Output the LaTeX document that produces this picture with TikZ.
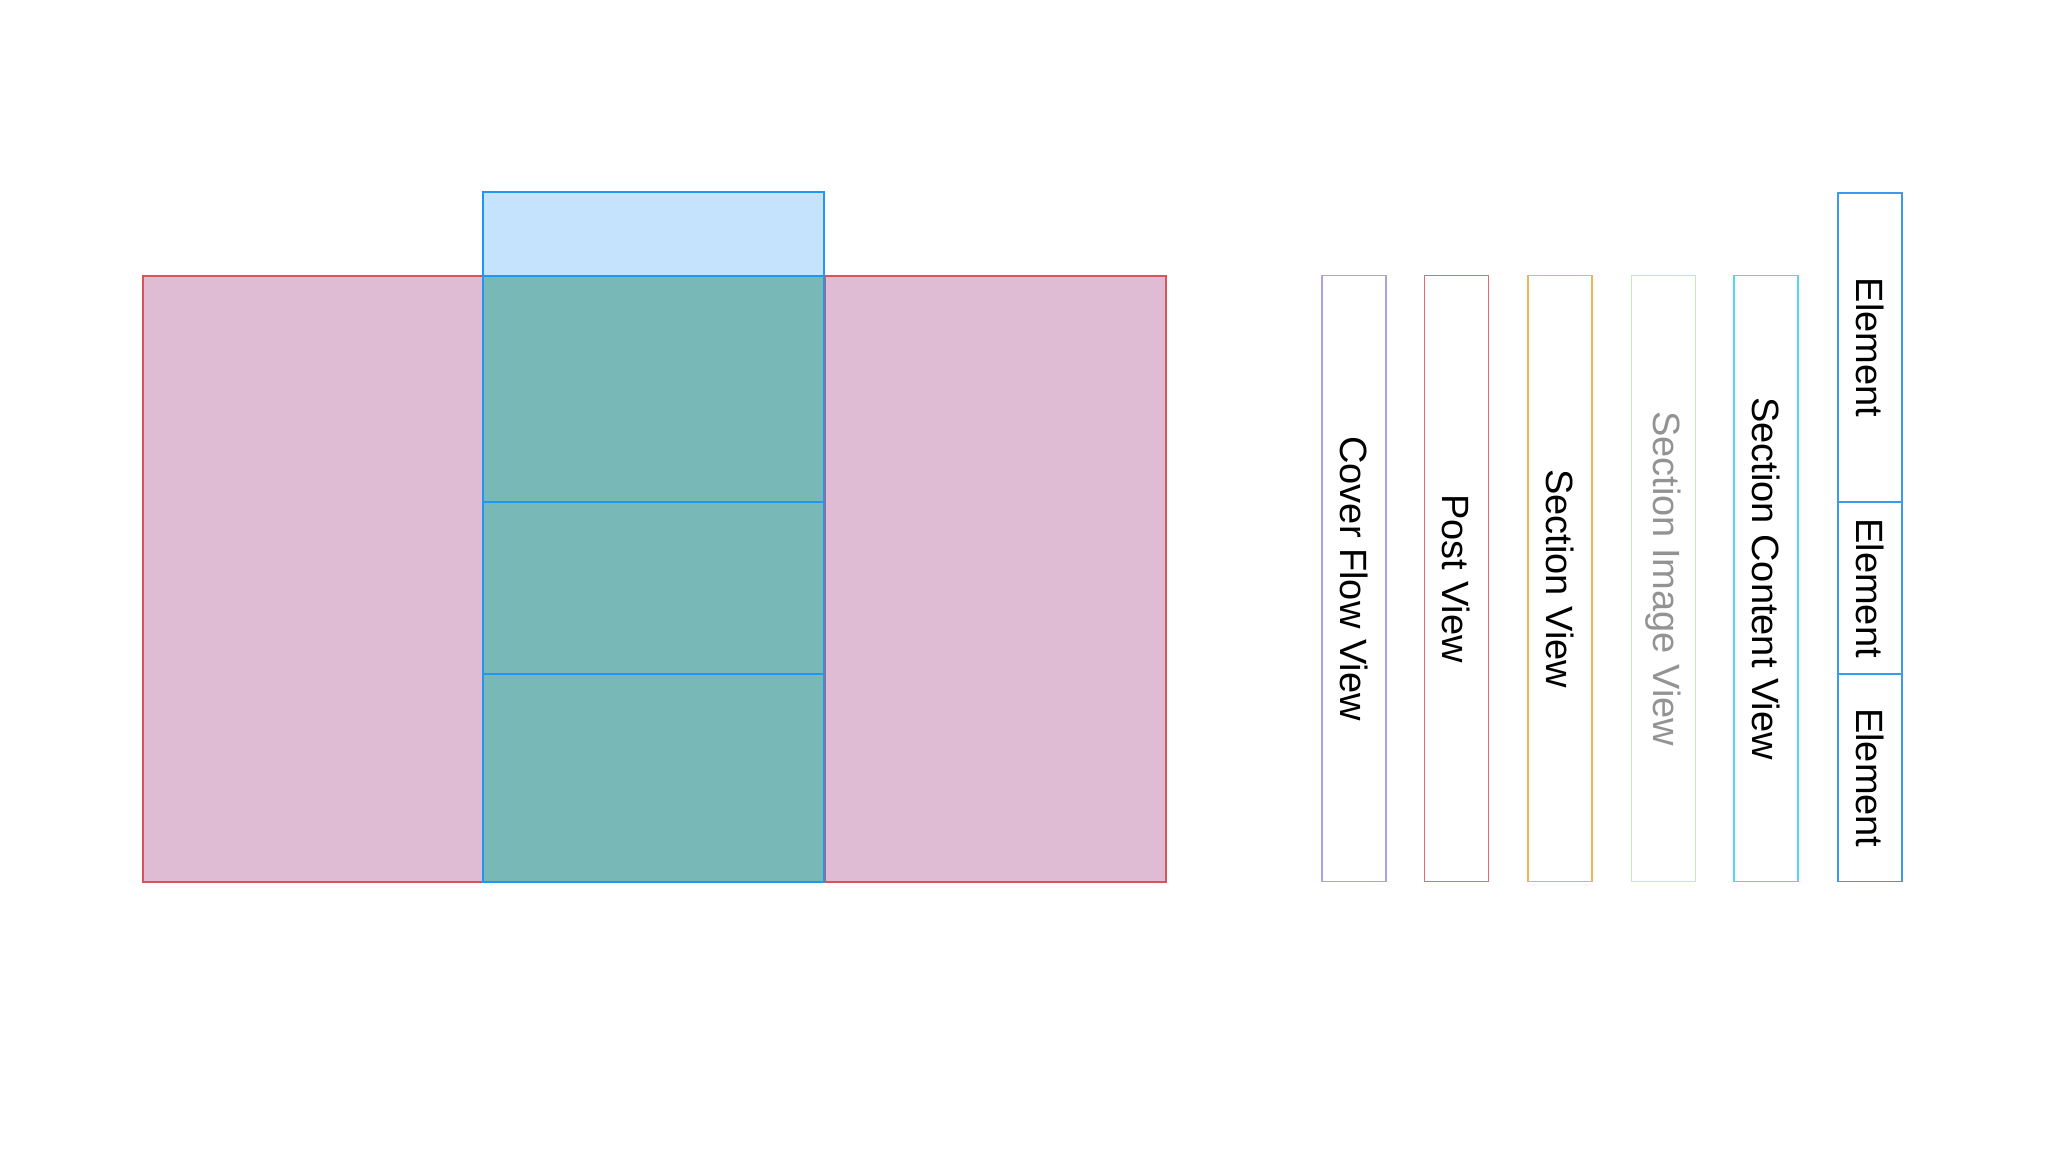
\documentclass[tikz,border=0pt]{standalone}
\usepackage{fontspec}
\setmainfont{Liberation Sans}
\usepackage{tikz}

\definecolor{pinkfill}{HTML}{DFBCD4}
\definecolor{redline}{HTML}{D4555A}
\definecolor{tealfill}{HTML}{78B8B6}
\definecolor{skyfill}{HTML}{C5E3FD}
\definecolor{blueline}{HTML}{2196F3}
\definecolor{lilac}{HTML}{AAA2E8}
\definecolor{rose}{HTML}{E06E70}
\definecolor{amber}{HTML}{F0B25A}
\definecolor{mint}{HTML}{C5EBB8}
\definecolor{aqua}{HTML}{52D8EA}
\definecolor{sky}{HTML}{3A9AEE}

\tikzset{
  pane/.style={draw=redline, fill=pinkfill, line width=1pt, minimum width=170.5pt, minimum height=303pt, inner sep=0pt},
  cell/.style={draw=blueline, fill=tealfill, line width=1pt, minimum width=170.5pt, inner sep=0pt},
  strip/.style={draw=#1, line width=0.8pt, rotate=-90, minimum width=303pt, minimum height=32pt, inner sep=0pt,
    font=\fontsize{19}{22}\selectfont},
  elem/.style={draw=sky, line width=0.8pt, rotate=-90, minimum height=32pt, inner sep=0pt,
    font=\fontsize{19}{22}\selectfont}
}

\begin{document}
\begin{tikzpicture}[x=0.5pt, y=-0.5pt]
		\useasboundingbox (0,0) rectangle (2048,1152);
		% pages of the cover flow
		\node[pane] (left) at (313.5,578.6) {};
		\node[pane] (right) at (995.9,578.6) {};
		\node[cell, fill=skyfill, minimum height=41.8pt] (top) at (653.7,233.8) {};
		\node[cell, minimum height=113.2pt] (cellA) at (653.7,388.8) {};
		\node[cell, minimum height=86pt] (cellB) at (653.7,588) {};
		\node[cell, minimum height=103.8pt] (cellC) at (653.7,777.8) {};
		% view hierarchy
		\node[strip=lilac] (cover) at (1353.8,578.6) {Cover Flow View};
		\node[strip=rose] (post) at (1456.4,578.6) {Post View};
		\node[strip=amber] (section) at (1560.2,578.6) {Section View};
		\node[strip=mint, text=gray!85] (image) at (1663.3,578.6) {Section Image View};
		\node[strip=aqua] (content) at (1765.9,578.6) {Section Content View};
		\node[elem, minimum width=154.5pt] (elemA) at (1869.7,347.6) {Element};
		\node[elem, minimum width=86pt] (elemB) at (1869.7,588) {Element};
		\node[elem, minimum width=103.8pt] (elemC) at (1869.7,777.8) {Element};
		\end{tikzpicture}
\end{document}
